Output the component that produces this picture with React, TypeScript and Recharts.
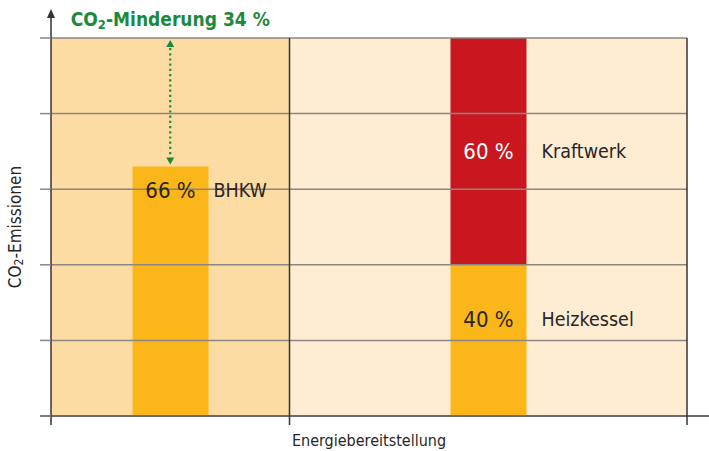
import React from "react";
import {
  BarChart,
  Bar,
  XAxis,
  YAxis,
  ReferenceArea,
  ReferenceLine,
  LabelList,
} from "recharts";

// 8 gleich breite Slots: links 3 (BHKW), rechts 5 (getrennte Erzeugung)
const slots = ["L1", "BHKW", "L3", "R1", "R2", "Getrennt", "R4", "R5"];
const bhkwShare = [null, 66, null, null, null, null, null, null];
const heizkesselShare = [null, null, null, null, null, 40, null, null];
const kraftwerkShare = [null, null, null, null, null, 60, null, null];
const yTicks = [0, 20, 40, 60, 80, 100];
const reduction = 34;

const data = slots.map((slot, i) => ({
  slot,
  bhkw: bhkwShare[i],
  heizkessel: heizkesselShare[i],
  kraftwerk: kraftwerkShare[i],
}));

const FONT = "'DejaVu Sans Condensed', 'Liberation Sans Narrow', 'DejaVu Sans', sans-serif";
const ORANGE = "#fbb719";
const RED = "#c9161f";
const GREEN = "#1b8a3e";
const DARK = "#3a3232";
const GRID = "#8c8681";
const TEXT = "#2a2525";

const barLabel = (name: string, dy: number | "center", gap: number, valueColor = TEXT) => (props: any) => {
  const { value } = props;
  if (value === null || value === undefined) return null;
  const x = Number(props.x);
  const y = Number(props.y);
  const w = Number(props.width);
  const h = Number(props.height);
  const cy = dy === "center" ? y + h / 2 : y + dy;
  return (
    <g>
      <text x={x + w / 2} y={cy} textAnchor="middle" dominantBaseline="central" fontFamily={FONT} fontSize={22} fill={valueColor}>
        {value} %
      </text>
      <text x={x + w + gap} y={cy} textAnchor="start" dominantBaseline="central" fontFamily={FONT} fontSize={19.5} fill={TEXT}>
        {name}
      </text>
    </g>
  );
};

export default function App() {
  return (
    <div style={{ position: "absolute", left: 0, top: 0, width: 709, height: 451, background: "#fff" }}>
      <BarChart width={709} height={451} data={data} margin={{ top: 38, right: 22, left: 40, bottom: 0 }} barSize={76}>
        <ReferenceArea x1="L1" x2="L3" fill="#fddca4" fillOpacity={1} stroke="none" ifOverflow="visible" />
        <ReferenceArea x1="R1" x2="R5" fill="#feedd2" fillOpacity={1} stroke="none" ifOverflow="visible" />
        {yTicks.slice(1).map((t) => (
          <ReferenceLine key={t} y={t} stroke={GRID} strokeWidth={1.5} ifOverflow="visible" />
        ))}
        <XAxis
          dataKey="slot"
          height={35}
          tick={false}
          tickLine={false}
          axisLine={false}
          label={(p: any) => {
            const vb = p.viewBox;
            return (
              <text x={vb.x + vb.width / 2} y={vb.y + 24} textAnchor="middle" dominantBaseline="central" fontFamily={FONT} fontSize={16} fill={TEXT}>
                Energiebereitstellung
              </text>
            );
          }}
        />
        <YAxis
          width={11}
          domain={[0, 100]}
          ticks={yTicks}
          tickSize={11}
          tickFormatter={() => ""}
          tickLine={{ stroke: GRID, strokeWidth: 1.5 }}
          axisLine={false}
          label={(p: any) => {
            const vb = p.viewBox;
            const cx = vb.x - 25;
            const cy = vb.y + vb.height / 2;
            return (
              <text x={cx} y={cy} transform={`rotate(-90 ${cx} ${cy})`} textAnchor="middle" dominantBaseline="central" fontFamily={FONT} fontSize={17} fill={TEXT}>
                CO<tspan dy={4} fontSize={12}>2</tspan>
                <tspan dy={-4}>-Emissionen</tspan>
              </text>
            );
          }}
        />
        <ReferenceLine
          y={0}
          ifOverflow="visible"
          shape={(p: any) => (
            <line x1={Math.min(p.x1, p.x2) - 11} x2={Math.max(p.x1, p.x2) + 22} y1={p.y1} y2={p.y2} stroke="#6f6a66" strokeWidth={2} />
          )}
        />
        <ReferenceLine
          x="R1"
          position="start"
          ifOverflow="visible"
          shape={(p: any) => (
            <line x1={p.x1} x2={p.x2} y1={Math.min(p.y1, p.y2)} y2={Math.max(p.y1, p.y2) + 9} stroke={DARK} strokeWidth={1.5} />
          )}
        />
        <ReferenceLine
          x="R5"
          position="end"
          ifOverflow="visible"
          shape={(p: any) => (
            <line x1={p.x1} x2={p.x2} y1={Math.min(p.y1, p.y2)} y2={Math.max(p.y1, p.y2) + 9} stroke={DARK} strokeWidth={1.5} />
          )}
        />
        <Bar dataKey="bhkw" stackId="s" fill={ORANGE} isAnimationActive={false}>
          <LabelList dataKey="bhkw" content={barLabel("BHKW", 24, 5)} />
        </Bar>
        <Bar dataKey="heizkessel" stackId="s" fill={ORANGE} isAnimationActive={false}>
          <LabelList dataKey="heizkessel" content={barLabel("Heizkessel", 55, 15)} />
        </Bar>
        <Bar dataKey="kraftwerk" stackId="s" fill={RED} isAnimationActive={false}>
          <LabelList dataKey="kraftwerk" content={barLabel("Kraftwerk", "center", 15, "#ffffff")} />
        </Bar>
        <ReferenceLine
          x="L1"
          position="start"
          ifOverflow="visible"
          shape={(p: any) => {
            const top = Math.min(p.y1, p.y2);
            const bottom = Math.max(p.y1, p.y2);
            const x = p.x1;
            return (
              <g>
                <line x1={x} x2={x} y1={bottom + 9} y2={top - 20} stroke={DARK} strokeWidth={1.5} />
                <polygon points={`${x},${top - 29} ${x - 4},${top - 20} ${x + 4},${top - 20}`} fill={DARK} />
              </g>
            );
          }}
        />
        <ReferenceLine
          segment={[
            { x: "BHKW", y: bhkwShare[1] as number },
            { x: "BHKW", y: 100 },
          ]}
          ifOverflow="visible"
          shape={(p: any) => {
            const top = Math.min(p.y1, p.y2);
            const bottom = Math.max(p.y1, p.y2);
            const x = p.x1;
            return (
              <g>
                <line x1={x} x2={x} y1={top + 10} y2={bottom - 10} stroke={GREEN} strokeWidth={2.2} strokeDasharray="2.2 3" />
                <polygon points={`${x},${top + 2} ${x - 4},${top + 9} ${x + 4},${top + 9}`} fill={GREEN} />
                <polygon points={`${x},${bottom - 2} ${x - 4},${bottom - 9} ${x + 4},${bottom - 9}`} fill={GREEN} />
                <text x={x} y={top - 19} textAnchor="middle" dominantBaseline="central" fontFamily={FONT} fontWeight="bold" fontSize={19} fill={GREEN}>
                  CO<tspan dy={5} fontSize={13}>2</tspan>
                  <tspan dy={-5}>-Minderung {reduction} %</tspan>
                </text>
              </g>
            );
          }}
        />
      </BarChart>
    </div>
  );
}
